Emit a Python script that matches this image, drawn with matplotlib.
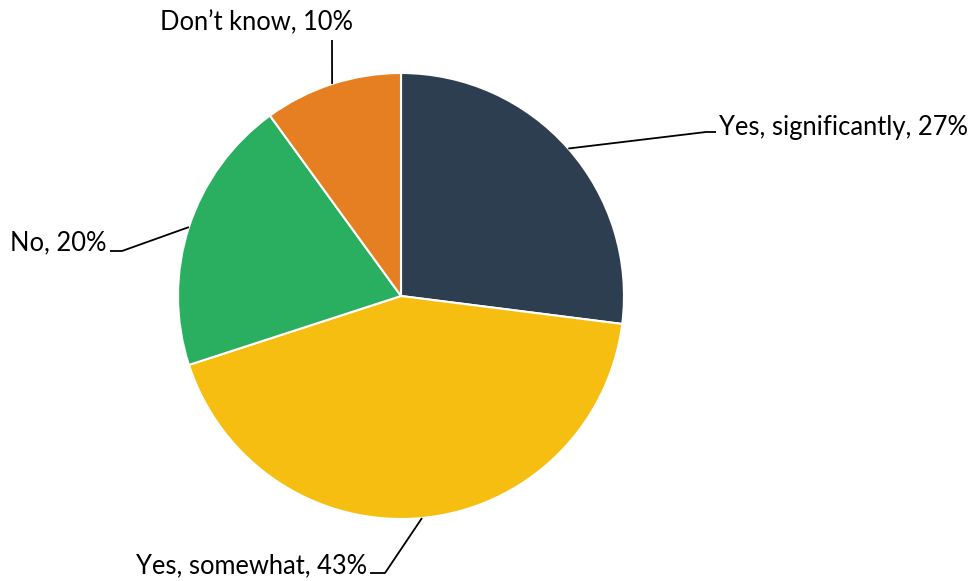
import matplotlib.pyplot as plt
import numpy as np

# ── Survey shares ─────────────────────────────────────────────────────────────
labels = ["Yes, significantly", "Yes, somewhat", "No", "Don\u2019t know"]
shares = [27, 43, 20, 10]
colors = ["#2E3E51", "#F7BE12", "#2AAE60", "#E67F22"]

W, H = 976, 581
CX, CY, R = 401, H - 296, 223

# label text anchor, elbow point, and text alignment per slice
label_pos = [(719, H - 128), (367, H - 566), (106, H - 243), (256, H - 23)]
elbows = [[(706, H - 132), (716, H - 132)],
          [(385, H - 573), (370, H - 573)],
          [(122, H - 251), (110, H - 251)],
          [(332, H - 40)]]
aligns = [("left", "center"), ("right", "center"), ("right", "center"), ("center", "center")]

plt.rcParams["font.family"] = ["Lato", "DejaVu Sans"]

fig = plt.figure(figsize=(W / 100, H / 100), dpi=100)
ax = fig.add_axes([0, 0, 1, 1])

wedges, _ = ax.pie(
    shares, colors=colors, startangle=90, counterclock=False,
    center=(CX, CY), radius=R,
    wedgeprops=dict(edgecolor="white", linewidth=1.5),
)
# pie() resets the limits, so set the pixel frame afterwards
ax.set_xlim(0, W)
ax.set_ylim(0, H)
ax.set_aspect("equal")
ax.axis("off")

for w, lab, val, pos, elb, (ha, va) in zip(wedges, labels, shares, label_pos, elbows, aligns):
    mid = np.deg2rad((w.theta1 + w.theta2) / 2)
    start = (CX + R * np.cos(mid), CY + R * np.sin(mid))
    pts = [start] + elb
    xs, ys = zip(*pts)
    ax.plot(xs, ys, color="black", lw=1.3, solid_capstyle="butt")
    ax.text(pos[0], pos[1], f"{lab}, {val}%", ha=ha, va=va, fontsize=18.4, color="black")

fig.savefig("out.png", dpi=100)
